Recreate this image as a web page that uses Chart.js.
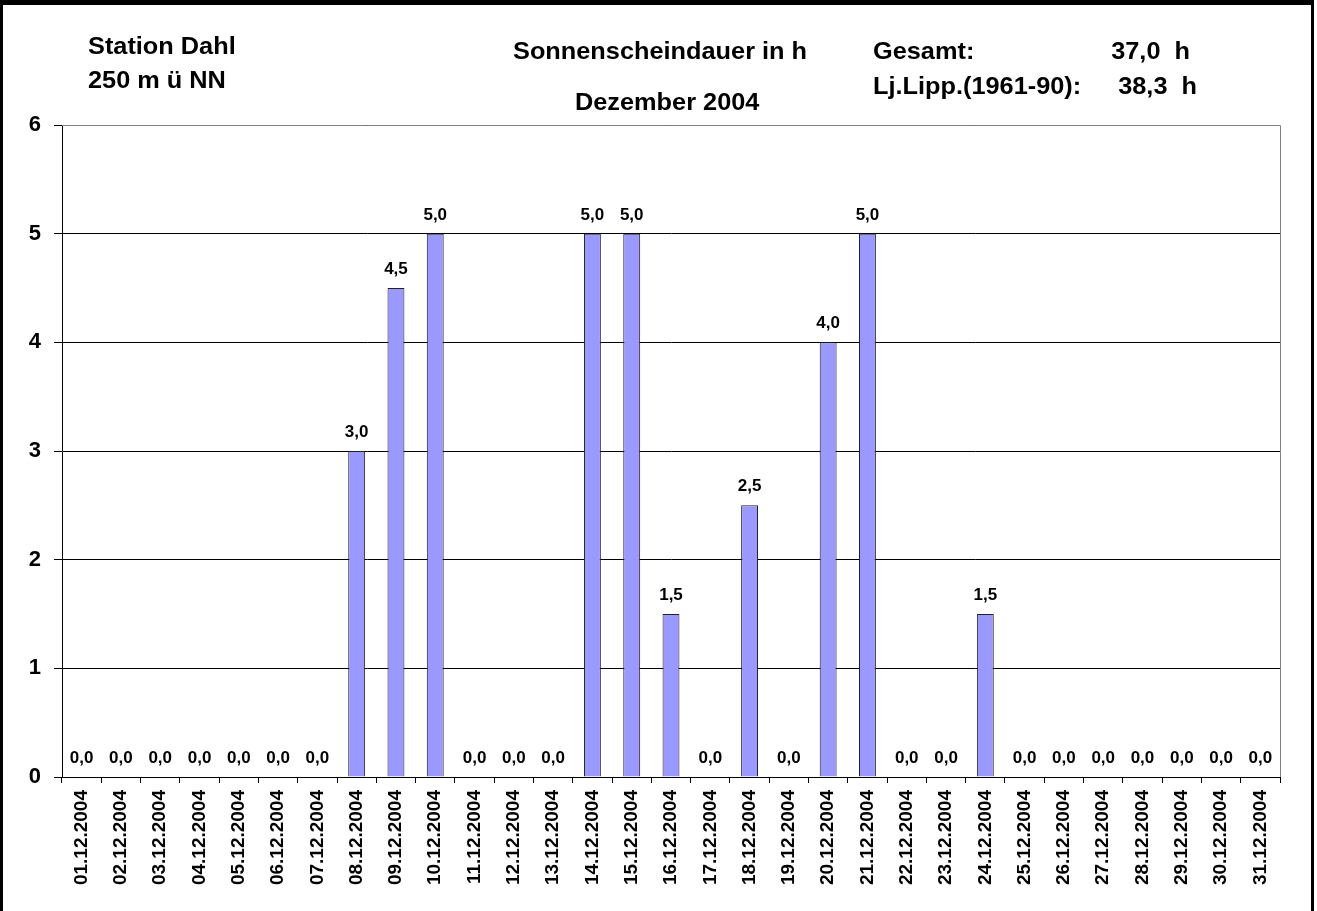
<!DOCTYPE html>
<html>
<head>
<meta charset="utf-8">
<script src="https://cdn.jsdelivr.net/npm/chart.js"></script>
<style>
  html, body { margin: 0; padding: 0; background: #fff; }
  #wrap { width: 1317px; height: 911px; position: relative; }
</style>
</head>
<body>
<div id="wrap"><canvas id="sunChart" width="1317" height="911"></canvas></div>
<script>
  const days = [
    '01.12.2004', '02.12.2004', '03.12.2004', '04.12.2004', '05.12.2004', '06.12.2004', '07.12.2004',
    '08.12.2004', '09.12.2004', '10.12.2004', '11.12.2004', '12.12.2004', '13.12.2004', '14.12.2004',
    '15.12.2004', '16.12.2004', '17.12.2004', '18.12.2004', '19.12.2004', '20.12.2004', '21.12.2004',
    '22.12.2004', '23.12.2004', '24.12.2004', '25.12.2004', '26.12.2004', '27.12.2004', '28.12.2004',
    '29.12.2004', '30.12.2004', '31.12.2004'
  ];
  const sunHours = [
    0, 0, 0, 0, 0, 0, 0,
    3.0, 4.5, 5.0, 0, 0, 0, 5.0,
    5.0, 1.5, 0, 2.5, 0, 4.0, 5.0,
    0, 0, 1.5, 0, 0, 0, 0,
    0, 0, 0
  ];
  const yTicks = [0, 1, 2, 3, 4, 5, 6];

  const FONT = '"Liberation Sans", Arial, sans-serif';

  // value labels above the bars, German decimal comma
  const valueLabels = {
    id: 'valueLabels',
    afterDatasetsDraw(chart) {
      const ctx = chart.ctx;
      const meta = chart.getDatasetMeta(0);
      ctx.save();
      ctx.font = 'bold 17px ' + FONT;
      ctx.fillStyle = '#000';
      ctx.textAlign = 'center';
      ctx.textBaseline = 'alphabetic';
      meta.data.forEach((bar, i) => {
        const txt = sunHours[i].toFixed(1).replace('.', ',');
        ctx.fillText(txt, bar.x, bar.y - 14);
      });
      ctx.restore();
    }
  };

  // header text is a little wider than the plain font
  function wideText(ctx, txt, x, y, align) {
    const sx = 1.055;
    ctx.save();
    ctx.translate(x, y);
    ctx.scale(sx, 1);
    ctx.textAlign = align;
    ctx.fillText(txt, 0, 0);
    ctx.restore();
  }

  // frame, plot border and header texts
  const decor = {
    id: 'decor',
    beforeDraw(chart) {
      const ctx = chart.ctx;
      ctx.save();
      ctx.fillStyle = '#fff';
      ctx.fillRect(0, 0, chart.width, chart.height);
      ctx.restore();
    },
    afterDraw(chart) {
      const ctx = chart.ctx;
      const a = chart.chartArea;
      ctx.save();
      // grey plot border top and right
      ctx.strokeStyle = '#808080';
      ctx.lineWidth = 1;
      ctx.beginPath();
      ctx.moveTo(a.left, a.top + 0.5);
      ctx.lineTo(a.right + 0.5, a.top + 0.5);
      ctx.lineTo(a.right + 0.5, a.bottom);
      ctx.stroke();

      // outer frame
      ctx.fillStyle = '#000';
      ctx.fillRect(0, 0, 1314, 5);
      ctx.fillRect(0, 0, 3, chart.height);
      ctx.fillRect(1311, 0, 3, chart.height);

      ctx.font = 'bold 24px ' + FONT;
      ctx.textBaseline = 'middle';
      wideText(ctx, 'Station Dahl', 88, 47, 'left');
      wideText(ctx, '250 m ü NN', 88, 81, 'left');
      wideText(ctx, 'Sonnenscheindauer in h', 513, 52, 'left');
      wideText(ctx, 'Dezember 2004', 575, 103, 'left');
      wideText(ctx, 'Gesamt:', 873, 52, 'left');
      wideText(ctx, 'Lj.Lipp.(1961-90):', 873, 87, 'left');
      wideText(ctx, '37,0  h', 1190, 52, 'right');
      wideText(ctx, '38,3  h', 1197, 87, 'right');
      ctx.restore();
    }
  };

  const ctx = document.getElementById('sunChart').getContext('2d');
  const sunChart = new Chart(ctx, {
    type: 'bar',
    data: {
      labels: days,
      datasets: [{
        label: 'Sonnenscheindauer in h',
        data: sunHours,
        backgroundColor: '#9999FF',
        borderColor: '#222',
        borderWidth: 1,
        borderSkipped: 'bottom',
        barPercentage: 0.43,
        categoryPercentage: 1.0
      }]
    },
    options: {
      responsive: false,
      animation: false,
      layout: { padding: { top: 125, right: 37, left: 0, bottom: 0 } },
      plugins: {
        legend: { display: false },
        tooltip: { enabled: false }
      },
      scales: {
        x: {
          afterFit(scale) { scale.height = 134; },
          grid: {
            drawOnChartArea: false,
            drawTicks: true,
            tickLength: 6,
            color: '#000',
            offset: true
          },
          border: { color: '#000', width: 1 },
          ticks: {
            minRotation: 90,
            maxRotation: 90,
            autoSkip: false,
            padding: 7,
            color: '#000',
            font: { family: FONT, size: 19, weight: 'bold' }
          }
        },
        y: {
          min: 0,
          max: 6,
          afterFit(scale) { scale.width = 62; },
          afterBuildTicks(scale) { scale.ticks = yTicks.map(v => ({ value: v })); },
          grid: {
            color: '#000',
            lineWidth: 1,
            drawTicks: true,
            tickLength: 8
          },
          border: { color: '#000', width: 1 },
          ticks: {
            padding: 13,
            color: '#000',
            font: { family: FONT, size: 22, weight: 'bold' }
          }
        }
      }
    },
    plugins: [valueLabels, decor]
  });
</script>
</body>
</html>
